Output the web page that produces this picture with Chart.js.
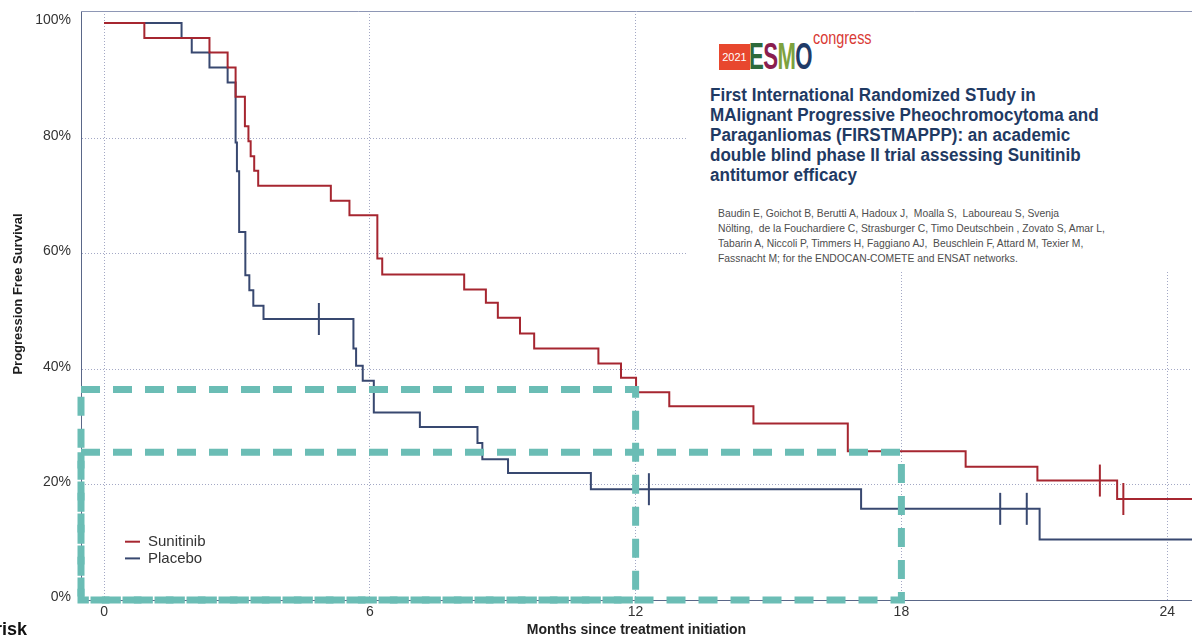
<!DOCTYPE html>
<html>
<head>
<meta charset="utf-8">
<script src="https://cdn.jsdelivr.net/npm/chart.js@4.4.1/dist/chart.umd.min.js"></script>
<style>
  html, body { margin: 0; padding: 0; background: #fff; overflow: hidden; }
  #wrap { position: relative; width: 1192px; height: 639px; }
  #pfs { display: block; }
  #study {
    position: absolute; left: 688px; top: 13px; width: 504px; height: 259px;
    background: #fff; font-family: "Liberation Sans", Arial, sans-serif;
  }
  #study .yr {
    position: absolute; left: 31px; top: 31px; width: 31px; height: 26px;
    background: #e8472e; color: #fff; font-size: 11px; line-height: 26px; text-align: center;
  }
  #study .esmo {
    position: absolute; left: 61px; top: 25px; font-size: 37px; line-height: 37px;
    font-weight: bold; white-space: nowrap; transform: scaleX(0.6); transform-origin: 0 0;
    letter-spacing: -1px;
  }
  #study .cong {
    position: absolute; left: 125px; top: 15px; font-size: 19px; line-height: 19px;
    color: #d93a35; white-space: nowrap; transform: scaleX(0.76); transform-origin: 0 0;
  }
  #study .title {
    position: absolute; left: 22px; top: 72px; display: inline-block;
    font-size: 17.5px; line-height: 20px; font-weight: bold; color: #1f3a63;
    white-space: pre; transform-origin: 0 0;
  }
  #study .authors {
    position: absolute; left: 30px; top: 193px; display: inline-block;
    font-size: 11.8px; line-height: 15px; color: #4d4d4d; white-space: pre; transform-origin: 0 0;
  }
</style>
</head>
<body>
<div id="wrap">
  <canvas id="pfs" width="1192" height="639"></canvas>
  <div id="study">
    <div class="yr">2021</div>
    <div class="esmo"><span style="color:#2d6a3b">E</span><span style="color:#8a1e4e">S</span><span style="color:#7ea23e">M</span><span style="color:#1f3b68">O</span></div>
    <div class="cong">congress</div>
    <div class="title" id="studyTitle"><div>First International Randomized STudy in</div><div>MAlignant Progressive Pheochromocytoma and</div><div>Paraganliomas (FIRSTMAPPP): an academic</div><div>double blind phase II trial assessing Sunitinib</div><div>antitumor efficacy</div></div>
    <div class="authors" id="studyAuthors"><div>Baudin E, Goichot B, Berutti A, Hadoux J,  Moalla S,  Laboureau S, Svenja</div><div>Nölting,  de la Fouchardiere C, Strasburger C, Timo Deutschbein , Zovato S, Amar L,</div><div>Tabarin A, Niccoli P, Timmers H, Faggiano AJ,  Beuschlein F, Attard M, Texier M,</div><div>Fassnacht M; for the ENDOCAN-COMETE and ENSAT networks.</div></div>
  </div>
</div>
<script>
// Axis ticks
const xTickValues = [0, 6, 12, 18, 24];
const yTickValues = [0, 20, 40, 60, 80, 100];

// Sunitinib arm: months at each step and progression-free survival (%) after it
const sunitinibMonths = [0, 0.91, 2.38, 2.79, 2.97, 3.18, 3.26, 3.31, 3.39, 3.48, 5.12, 5.54, 6.17, 6.28,
  8.13, 8.62, 8.89, 9.39, 9.71, 11.16, 11.67, 12.01, 12.76, 14.66, 16.79, 19.45, 21.07, 22.87, 25];
const sunitinibPFS = [100, 97.4, 94.9, 92.3, 87.2, 82.1, 79.5, 76.9, 74.4, 71.8, 69.2, 66.7, 59.2, 56.4,
  53.8, 51.5, 48.9, 46.2, 43.6, 41.0, 38.5, 36.0, 33.6, 30.6, 25.8, 23.1, 20.7, 17.5, 17.5];
const sunitinibCensored = [22.48, 23.01];

// Placebo arm
const placeboMonths = [0, 1.75, 1.98, 2.38, 2.79, 2.97, 3.00, 3.05, 3.19, 3.28, 3.37, 3.60, 5.63, 5.69,
  5.84, 6.09, 7.13, 8.43, 8.54, 9.12, 10.99, 17.09, 21.12, 25];
const placeboPFS = [100, 97.4, 94.9, 92.3, 89.7, 79.3, 74.3, 63.8, 56.3, 53.7, 51.0, 48.7, 43.6, 40.6,
  38.0, 32.5, 30.0, 27.2, 24.4, 22.0, 19.2, 15.8, 10.5, 10.5];
const placeboCensored = [4.85, 12.30, 20.23, 20.83];

// Highlighted landmarks: month and PFS level of each dashed window
const landmarkMonths = [12, 18];
const landmarkPFS = [36.5, 25.6];

const X_MIN = -0.52, X_MAX = 24.56, Y_MAX = 102.08;
const FONT = '"Liberation Sans", Arial, sans-serif';
const RED = 'rgb(166,38,48)';
const BLUE = 'rgb(56,72,112)';
const TEAL = 'rgb(107,189,181)';
const GRID = 'rgba(140,146,182,0.8)';
const AXIS = '#5a6788';

const toPoints = (xs, ys) => xs.map((x, i) => ({ x, y: ys[i] }));
function survivalAt(months, pfs, t) {
  let v = pfs[0];
  for (let i = 0; i < months.length; i++) if (months[i] <= t) v = pfs[i];
  return v;
}
const censorPoints = (times, months, pfs) => times.map(t => ({ x: t, y: survivalAt(months, pfs, t) }));

const curve = (label, color, months, pfs) => ({
  label, legendEntry: true, data: toPoints(months, pfs),
  borderColor: color, borderWidth: 2, stepped: true, tension: 0,
  pointRadius: 0, fill: false, order: 2
});
const censor = (color, pts) => ({
  data: pts, showLine: false, pointStyle: 'line', rotation: 90, pointRadius: 16,
  pointBorderColor: color, pointBackgroundColor: color, pointBorderWidth: 2, order: 1
});
const landmark = (m, lvl) => ({
  data: [{ x: X_MIN, y: lvl }, { x: m, y: lvl }, { x: m, y: 0 }, { x: X_MIN, y: 0 }, { x: X_MIN, y: lvl }],
  borderColor: TEAL, borderWidth: 7, borderDash: [19, 13], borderCapStyle: 'butt',
  borderJoinStyle: 'miter', pointRadius: 0, tension: 0, fill: false, order: 0, clip: false
});

const decorations = {
  id: 'decorations',
  beforeDatasetsDraw(chart) {
    const { ctx, chartArea: a } = chart;
    ctx.save();
    ctx.strokeStyle = '#8e97b5';
    ctx.lineWidth = 1;
    ctx.beginPath();
    ctx.moveTo(a.left, a.top + 0.5);
    ctx.lineTo(a.right, a.top + 0.5);
    ctx.stroke();
    ctx.restore();
  },
  afterDraw(chart) {
    const { ctx } = chart;
    ctx.save();
    // legend
    chart.data.datasets.filter(d => d.legendEntry).forEach((d, i) => {
      const y = 541.7 + i * 16.7;
      ctx.strokeStyle = d.borderColor;
      ctx.lineWidth = 2;
      ctx.beginPath();
      ctx.moveTo(125, y);
      ctx.lineTo(140, y);
      ctx.stroke();
      ctx.fillStyle = '#333';
      ctx.font = '15px ' + FONT;
      ctx.textBaseline = 'middle';
      ctx.textAlign = 'left';
      ctx.fillText(d.label, 148, y + 0.5);
    });
    // vertical axis title
    ctx.translate(18, 294);
    ctx.rotate(-Math.PI / 2);
    ctx.font = 'bold 13px ' + FONT;
    ctx.fillStyle = '#1e1e1e';
    ctx.textAlign = 'center';
    ctx.textBaseline = 'middle';
    ctx.fillText('Progression Free Survival', 0, 0);
    ctx.setTransform(1, 0, 0, 1, 0, 0);
    // at-risk heading
    ctx.font = 'bold 18px ' + FONT;
    ctx.fillStyle = '#111';
    ctx.textAlign = 'right';
    ctx.textBaseline = 'alphabetic';
    ctx.fillText('risk', 27, 635);
    ctx.restore();
  }
};

new Chart(document.getElementById('pfs'), {
  type: 'line',
  data: {
    datasets: [
      curve('Sunitinib', RED, sunitinibMonths, sunitinibPFS),
      curve('Placebo', BLUE, placeboMonths, placeboPFS),
      censor(RED, censorPoints(sunitinibCensored, sunitinibMonths, sunitinibPFS)),
      censor(BLUE, censorPoints(placeboCensored, placeboMonths, placeboPFS)),
      ...landmarkMonths.map((m, i) => landmark(m, landmarkPFS[i]))
    ]
  },
  options: {
    responsive: false,
    animation: false,
    events: [],
    layout: { autoPadding: false, padding: { top: 11, left: 0, right: 0, bottom: 0 } },
    plugins: { legend: { display: false }, tooltip: { enabled: false } },
    scales: {
      x: {
        type: 'linear', min: X_MIN, max: X_MAX,
        afterBuildTicks: s => { s.ticks = xTickValues.map(v => ({ value: v })); },
        afterFit: s => { s.height = 39; s.paddingLeft = 0; s.paddingRight = 0; },
        grid: { color: GRID, lineWidth: 1, drawTicks: false },
        border: { color: AXIS, width: 1, dash: [1, 2] },
        ticks: { color: '#333', font: { size: 14, family: FONT }, padding: 4, maxRotation: 0, callback: v => v },
        title: { display: true, text: 'Months since treatment initiation', color: '#222',
                 font: { size: 14, weight: 'bold', family: FONT }, padding: { top: 0, bottom: 0 } }
      },
      y: {
        min: 0, max: Y_MAX,
        afterBuildTicks: s => { s.ticks = yTickValues.map(v => ({ value: v })); },
        afterFit: s => { s.width = 81; s.paddingTop = 0; s.paddingBottom = 0; },
        grid: {
          color: c => (c.tick && (c.tick.value === 0 || c.tick.value === 100)) ? 'rgba(0,0,0,0)' : GRID,
          lineWidth: 1, drawTicks: false
        },
        border: { color: AXIS, width: 1, dash: [1, 2] },
        ticks: { color: '#333', font: { size: 14, family: FONT }, padding: 10, labelOffset: -2.5,
                 callback: v => v + '%' }
      }
    }
  },
  plugins: [decorations]
});

// size the study text blocks to their column widths
function fitWidth(el, target) {
  const w = el.offsetWidth;
  if (w > 0) el.style.transform = 'scaleX(' + (target / w) + ')';
}
fitWidth(document.getElementById('studyTitle'), 389);
fitWidth(document.getElementById('studyAuthors'), 387);
</script>
</body>
</html>
